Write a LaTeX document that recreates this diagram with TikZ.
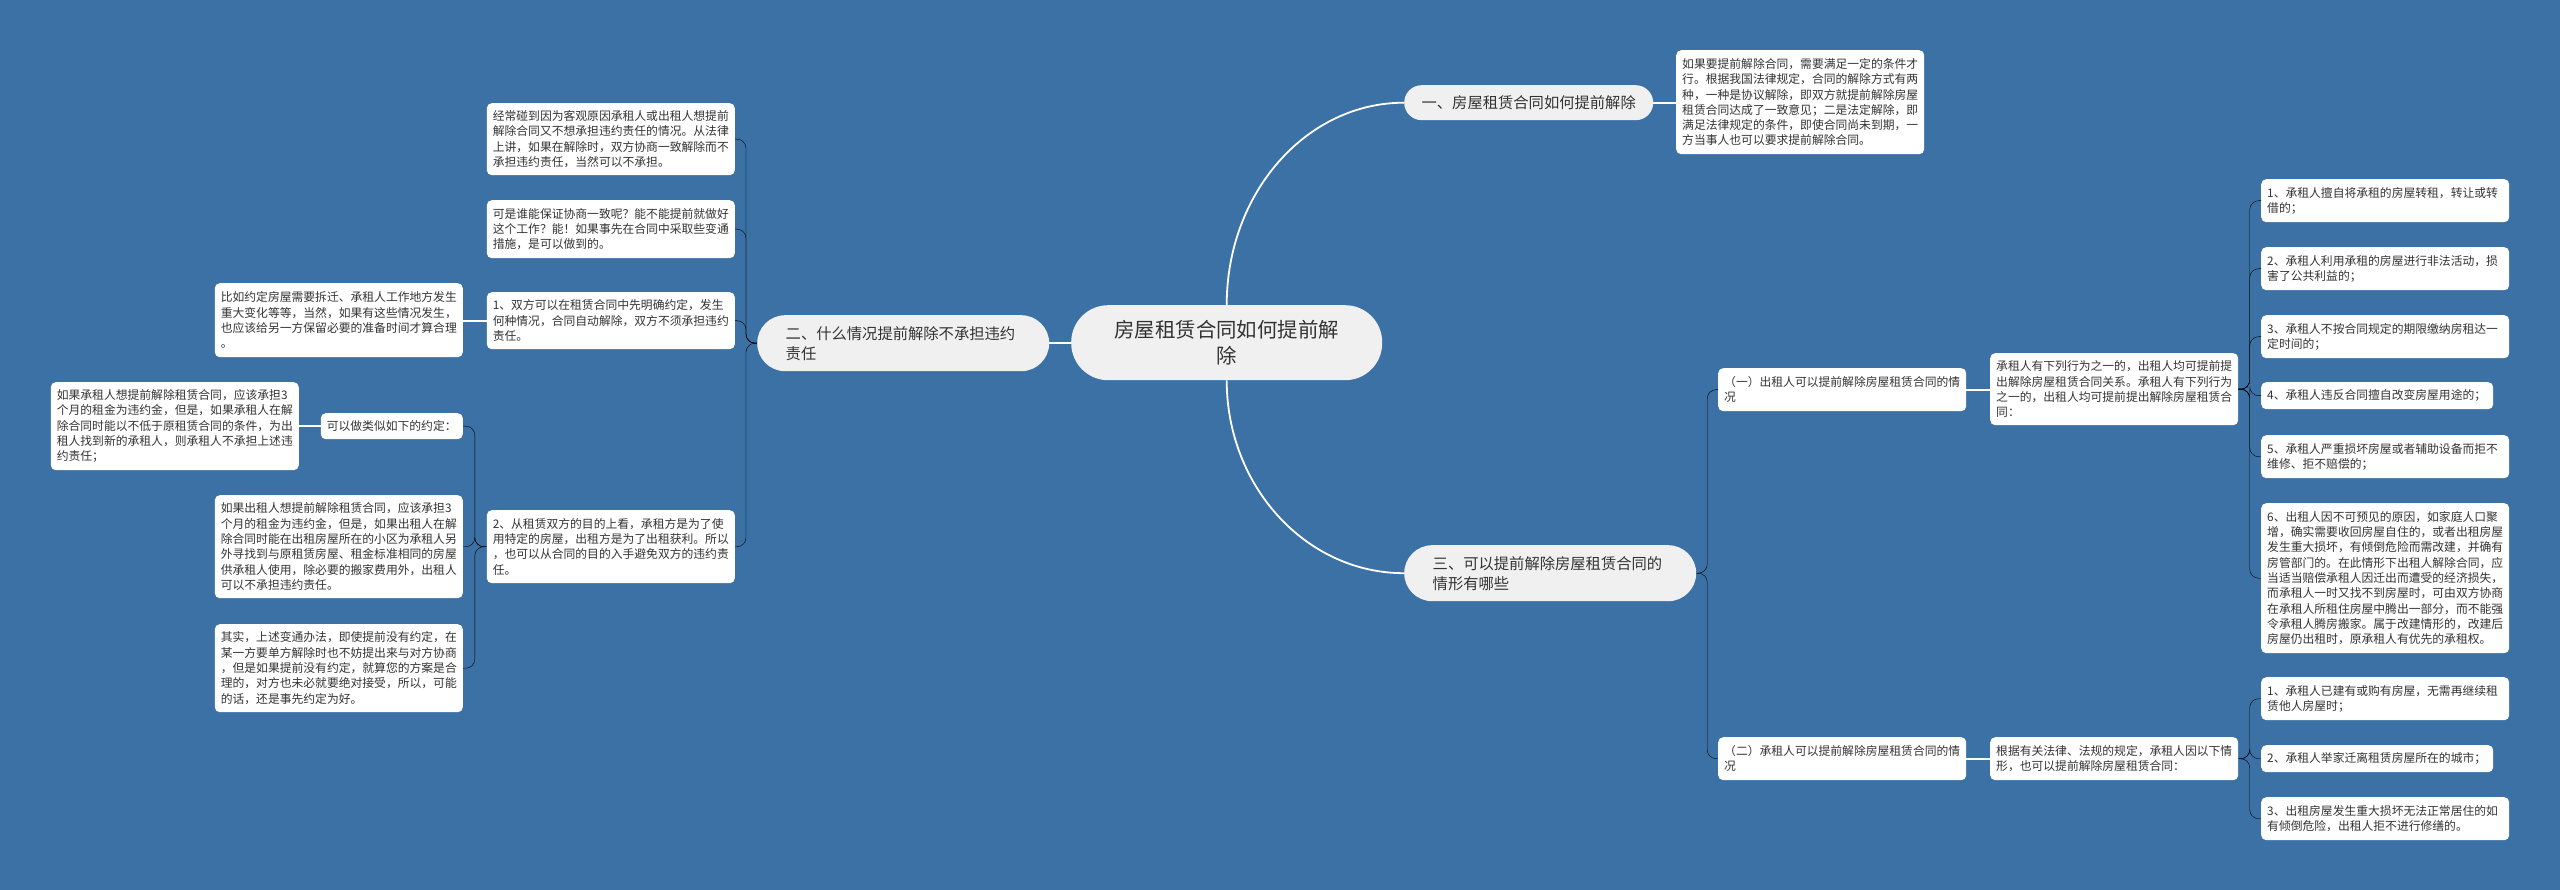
\documentclass[tikz,border=0pt]{standalone}
\usepackage{fontspec}
\setmainfont{Noto Sans CJK SC}
\usetikzlibrary{calc}
\definecolor{bg}{RGB}{60,113,165}
\definecolor{pill}{RGB}{240,240,240}
\definecolor{txt}{RGB}{51,51,51}
\newcommand\leaffont{\fontsize{11.8}{15.3}\selectfont}
\newcommand\branchfont{\fontsize{15.3}{20}\selectfont}
\newcommand\rootfont{\fontsize{20.4}{26.7}\selectfont}
\begin{document}
\begin{tikzpicture}[x=1pt,y=-1pt,
  leaf/.style={fill=white, rounded corners=5pt, inner xsep=6pt, inner ysep=2pt,
    align=left, text=txt, font=\leaffont, text width=236pt},
  branch/.style={fill=pill, rounded corners=28pt, inner xsep=28.5pt, inner ysep=2pt,
    align=left, text=txt, font=\branchfont, text width=235pt, minimum height=56pt},
  conn/.style={draw=white, line width=1.8pt},
  brk/.style={conn, rounded corners=9pt,
    to path={let \p1=(\tikztostart), \p2=(\tikztotarget) in
      -- ({(\x1+\x2)/2},\y1) -- ({(\x1+\x2)/2},\y2) -- (\tikztotarget)}}
]
\fill[bg] (0,0) rectangle (2560,890);
\useasboundingbox (0,0) rectangle (2560,890);

% root
\node[fill=pill, rounded corners=37pt, minimum width=311pt, minimum height=75pt,
  align=center, text=txt, font=\rootfont, inner sep=2pt, anchor=north west]
  (c) at (1071,305) {房屋租赁合同如何提前解\\除};

% branches
\node[fill=pill, rounded corners=17.5pt, minimum width=249pt, minimum height=35pt,
  text=txt, font=\branchfont, inner sep=2pt, anchor=north west]
  (b1) at (1404,85) {一、房屋租赁合同如何提前解除};
\node[branch, anchor=north west] (b2) at (757,315) {二、什么情况提前解除不承担违约\\责任};
\node[branch, anchor=north west] (b3) at (1404,545) {三、可以提前解除房屋租赁合同的\\情形有哪些};

% branch 1 leaf
\node[leaf, anchor=north west, minimum height=104pt] (t1) at (1676,50)
 {如果要提前解除合同，需要满足一定的条件才\\行。根据我国法律规定，合同的解除方式有两\\种，一种是协议解除，即双方就提前解除房屋\\租赁合同达成了一致意见；二是法定解除，即\\满足法律规定的条件，即使合同尚未到期，一\\方当事人也可以要求提前解除合同。};

% branch 3
\node[leaf, anchor=north west, minimum height=43pt] (m1) at (1718,368)
 {（一）出租人可以提前解除房屋租赁合同的情\\况};
\node[leaf, anchor=north west, minimum height=72pt] (m2) at (1990,353)
 {承租人有下列行为之一的，出租人均可提前提\\出解除房屋租赁合同关系。承租人有下列行为\\之一的，出租人均可提前提出解除房屋租赁合\\同：};
\node[leaf, anchor=north west, minimum height=43pt] (m3) at (1718,737)
 {（二）承租人可以提前解除房屋租赁合同的情\\况};
\node[leaf, anchor=north west, minimum height=43pt] (m4) at (1990,737)
 {根据有关法律、法规的规定，承租人因以下情\\形，也可以提前解除房屋租赁合同：};

\node[leaf, anchor=north west, minimum height=43pt] (r1) at (2261,179)
 {1、承租人擅自将承租的房屋转租，转让或转\\借的；};
\node[leaf, anchor=north west, minimum height=43pt] (r2) at (2261,247)
 {2、承租人利用承租的房屋进行非法活动，损\\害了公共利益的；};
\node[leaf, anchor=north west, minimum height=43pt] (r3) at (2261,315)
 {3、承租人不按合同规定的期限缴纳房租达一\\定时间的；};
\node[leaf, anchor=north west, minimum height=27pt, text width=220pt] (r4) at (2261,382)
 {4、承租人违反合同擅自改变房屋用途的；};
\node[leaf, anchor=north west, minimum height=43pt] (r5) at (2261,435)
 {5、承租人严重损坏房屋或者辅助设备而拒不\\维修、拒不赔偿的；};
\node[leaf, anchor=north west, minimum height=150pt] (r6) at (2261,503)
 {6、出租人因不可预见的原因，如家庭人口聚\\增，确实需要收回房屋自住的，或者出租房屋\\发生重大损坏，有倾倒危险而需改建，并确有\\房管部门的。在此情形下出租人解除合同，应\\当适当赔偿承租人因迁出而遭受的经济损失，\\而承租人一时又找不到房屋时，可由双方协商\\在承租人所租住房屋中腾出一部分，而不能强\\令承租人腾房搬家。属于改建情形的，改建后\\房屋仍出租时，原承租人有优先的承租权。};
\node[leaf, anchor=north west, minimum height=43pt] (s1) at (2261,677)
 {1、承租人已建有或购有房屋，无需再继续租\\赁他人房屋时；};
\node[leaf, anchor=north west, minimum height=27pt, text width=220pt] (s2) at (2261,745)
 {2、承租人举家迁离租赁房屋所在的城市；};
\node[leaf, anchor=north west, minimum height=43pt] (s3) at (2261,797)
 {3、出租房屋发生重大损坏无法正常居住的如\\有倾倒危险，出租人拒不进行修缮的。};

% branch 2
\node[leaf, anchor=north east, minimum height=72pt] (l1) at (735,103)
 {经常碰到因为客观原因承租人或出租人想提前\\解除合同又不想承担违约责任的情况。从法律\\上讲，如果在解除时，双方协商一致解除而不\\承担违约责任，当然可以不承担。};
\node[leaf, anchor=north east, minimum height=58pt] (l2) at (735,200)
 {可是谁能保证协商一致呢？能不能提前就做好\\这个工作？能！如果事先在合同中采取些变通\\措施，是可以做到的。};
\node[leaf, anchor=north east, minimum height=57pt] (l3) at (735,292)
 {1、双方可以在租赁合同中先明确约定，发生\\何种情况，合同自动解除，双方不须承担违约\\责任。};
\node[leaf, anchor=north east, minimum height=74pt] (l3a) at (463,283)
 {比如约定房屋需要拆迁、承租人工作地方发生\\重大变化等等，当然，如果有这些情况发生，\\也应该给另一方保留必要的准备时间才算合理\\。};
\node[leaf, anchor=north east, minimum height=73pt] (l4) at (735,510)
 {2、从租赁双方的目的上看，承租方是为了使\\用特定的房屋，出租方是为了出租获利。所以\\，也可以从合同的目的入手避免双方的违约责\\任。};
\node[leaf, anchor=north east, minimum height=26pt, text width=130pt] (l5a) at (463,413)
 {可以做类似如下的约定：};
\node[leaf, anchor=north east, minimum height=88pt] (l5b) at (299,382)
 {如果承租人想提前解除租赁合同，应该承担3\\个月的租金为违约金，但是，如果承租人在解\\除合同时能以不低于原租赁合同的条件，为出\\租人找到新的承租人，则承租人不承担上述违\\约责任；};
\node[leaf, anchor=north east, minimum height=103pt] (l5) at (463,495)
 {如果出租人想提前解除租赁合同，应该承担3\\个月的租金为违约金，但是，如果出租人在解\\除合同时能在出租房屋所在的小区为承租人另\\外寻找到与原租赁房屋、租金标准相同的房屋\\供承租人使用，除必要的搬家费用外，出租人\\可以不承担违约责任。};
\node[leaf, anchor=north east, minimum height=88pt] (l6) at (463,624)
 {其实，上述变通办法，即使提前没有约定，在\\某一方要单方解除时也不妨提出来与对方协商\\，但是如果提前没有约定，就算您的方案是合\\理的，对方也未必就要绝对接受，所以，可能\\的话，还是事先约定为好。};

% connectors
\draw[conn] (c.north) .. controls +(0,-112) and +(-98,0) .. (b1.west);
\draw[conn] (c.south) .. controls +(0,106) and +(-98,0) .. (b3.west);
\draw[conn] (c.west) -- (c.west -| b2.east);
\draw[conn] (b1.east) -- (b1.east -| t1.west);

\draw (b3.east) to[brk] (m1.west);
\draw (b3.east) to[brk] (m3.west);
\draw[conn] (m1.east) -- (m1.east -| m2.west);
\draw[conn] (m3.east) -- (m3.east -| m4.west);
\foreach \r in {r1,r2,r3,r4,r5,r6} \draw (m2.east) to[brk] (\r.west);
\foreach \s in {s1,s2,s3} \draw (m4.east) to[brk] (\s.west);

\foreach \l in {l1,l2,l3,l4} \draw (b2.west) to[brk] (\l.east);
\draw[conn] (l3.west) -- (l3.west -| l3a.east);
\foreach \l in {l5a,l5,l6} \draw (l4.west) to[brk] (\l.east);
\draw[conn] (l5a.west) -- (l5a.west -| l5b.east);
\end{tikzpicture}
\end{document}
